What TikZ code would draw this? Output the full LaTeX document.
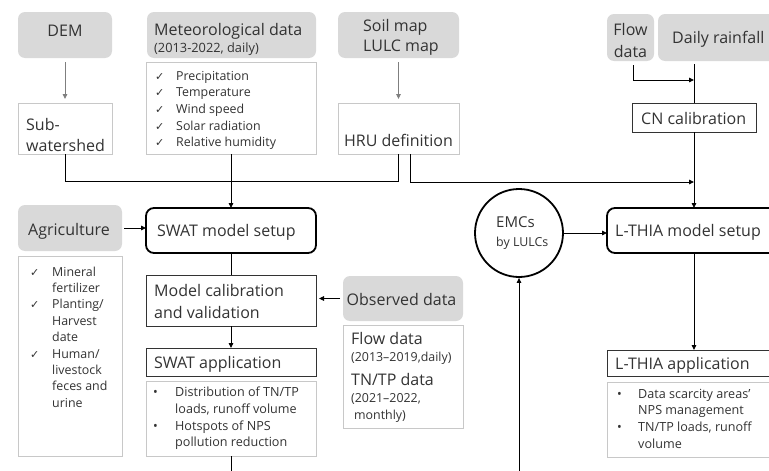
\documentclass[tikz,border=0pt]{standalone}
\usepackage{fontspec}
\setmainfont{Open Sans}
\newfontfamily\symf{DejaVu Sans}
\usetikzlibrary{arrows.meta,calc}
\definecolor{txt}{HTML}{333333}
\definecolor{gfill}{HTML}{D9D9D9}
\definecolor{lborder}{HTML}{C8C8C8}
\definecolor{garrow}{HTML}{7F7F7F}
\newcommand\fs[2]{\fontsize{#1}{#2}\selectfont}
\newcommand\chk{\makebox[21pt][l]{\symf\fontsize{11}{12}\selectfont ✓}}
\newcommand\chkb{\makebox[22pt][l]{\symf\fontsize{11}{12}\selectfont ✓}}
\newcommand\bul{\makebox[22pt][l]{•}}
\newcommand\ind{\hspace*{22pt}}
\begin{document}
\begin{tikzpicture}[x=1pt,y=-1pt,
  box/.style={inner sep=0pt, outer sep=0pt},
  graybox/.style={box, fill=gfill, rounded corners=7pt},
  lightbox/.style={box, draw=lborder, line width=0.8pt, fill=white},
  darkbox/.style={box, draw=txt, line width=0.8pt, fill=white},
  thickbox/.style={box, draw=black, line width=1.8pt, rounded corners=8pt, fill=white},
  lbl/.style={inner sep=0pt, text=txt, font=\fs{16}{20}, anchor=base west, align=left},
  conn/.style={draw=black, line width=0.9pt},
  arr/.style={conn, -{Triangle[length=5pt,width=4.5pt]}},
  garr/.style={draw=garrow, line width=0.9pt, -{Triangle[length=5pt,width=4.5pt]}, shorten <=4pt, shorten >=4pt},
]
\clip (0,0) rectangle (769,471);
% ---------- boxes ----------
\node[graybox, minimum width=94pt, minimum height=46pt] (dem) at (65,35) {};
\node[graybox, minimum width=169pt, minimum height=46pt] (met) at (231.5,35) {};
\node[lightbox, minimum width=170pt, minimum height=92pt] (metl) at (231,108) {};
\node[lightbox, minimum width=94pt, minimum height=51pt] (sub) at (65,128.5) {};
\node[graybox, minimum width=121pt, minimum height=46pt] (soil) at (398.5,35) {};
\node[lightbox, minimum width=121pt, minimum height=51pt] (hru) at (398.5,128.5) {};
\node[graybox, minimum width=47pt, minimum height=47pt] (flow) at (630.5,37.5) {};
\node[graybox, minimum width=132pt, minimum height=47pt] (rain) at (724,37.5) {};
\node[darkbox, minimum width=124pt, minimum height=29pt] (cn) at (694,117.5) {};
\node[thickbox, minimum width=170pt, minimum height=45pt] (swat) at (231,230.5) {};
\node[graybox, minimum width=104pt, minimum height=46pt] (agri) at (70,228) {};
\node[lightbox, minimum width=104pt, minimum height=200pt] (agril) at (70,356) {};
\node[darkbox, minimum width=170pt, minimum height=51pt] (calib) at (231,300.5) {};
\node[darkbox, minimum width=170pt, minimum height=28pt] (swatapp) at (231,362) {};
\node[lightbox, minimum width=170pt, minimum height=75pt] (swatl) at (231,418.5) {};
\node[graybox, minimum width=120pt, minimum height=45pt] (obs) at (403,298.5) {};
\node[lightbox, minimum width=120pt, minimum height=103pt] (obsl) at (403,376.5) {};
\node[circle, draw=black, line width=1.8pt, minimum size=88pt, inner sep=0pt, fill=white] (emc) at (519,233) {};
\node[thickbox, minimum width=183pt, minimum height=45pt] (lthia) at (698.5,230.5) {};
\node[darkbox, minimum width=183pt, minimum height=26pt] (lapp) at (698.5,363) {};
\node[lightbox, minimum width=183pt, minimum height=75pt] (lthial) at (698.5,419.5) {};
% ---------- texts (multi-line: anchored at the last baseline) ----------
\node[lbl, anchor=base] (demt) at (65,36) {DEM};
\node[lbl, font=\fs{16}{16.5}] (mett) at (154,52) {Meteorological data\\{\fs{12.8}{16.5}(2013-2022, daily)}};
\node[lbl, font=\fs{12.4}{16.7}] (metlt) at (155,146.8) {\chk Precipitation\\\chk Temperature\\\chk Wind speed\\\chk Solar radiation\\\chk Relative humidity};
\node[lbl, font=\fs{16}{20.5}] (subt) at (26,151) {Sub-\\watershed};
\node[lbl] (soilt) at (363,51.5) {Soil map\\LULC map};
\node[lbl, anchor=base] (hrut) at (398.5,146.5) {HRU definition};
\node[lbl, font=\fs{16}{21.5}, align=center, anchor=base] (flowt) at (630.5,57) {Flow\\data};
\node[lbl] (raint) at (672,43) {Daily rainfall};
\node[lbl] (cnt) at (641,124) {CN calibration};
\node[lbl] (swatt) at (157,236.5) {SWAT model setup};
\node[lbl] (agrit) at (28,235) {Agriculture};
\node[lbl, font=\fs{12.4}{16.4}] (agrilt) at (30,407.2) {\chkb Mineral\\\ind fertilizer\\\chkb Planting/\\\ind Harvest\\\ind date\\\chkb Human/\\\ind livestock\\\ind feces and\\\ind urine};
\node[lbl, font=\fs{16}{21.6}] (calibt) at (154,318.3) {Model calibration\\and validation};
\node[lbl] (swatappt) at (154,368) {SWAT application};
\node[lbl, font=\fs{12.6}{16.7}] (swatlt) at (153,446.8) {\bul Distribution of TN/TP\\\ind loads, runoff volume\\\bul Hotspots of NPS\\\ind pollution reduction};
\node[lbl] (obst) at (346.5,305) {Observed data};
\node[lbl, font=\fs{12.4}{17}] (obslt) at (351,419.3) {{\fs{16}{17}Flow data}\\(2013–2019,daily)\\[7pt]{\fs{16}{17}TN/TP data}\\(2021–2022,\\\hspace*{3pt}monthly)};
\node[lbl, font=\fs{15}{19}] (emct) at (496,246.7) {EMCs\\{\fs{12.4}{19}by LULCs}};
\node[lbl] (lthiat) at (615,236.5) {L-THIA model setup};
\node[lbl] (lappt) at (615,369) {L-THIA application};
\node[lbl, font=\fs{12.6}{16.6}] (lthialt) at (617,448.1) {\makebox[21pt][l]{•}Data scarcity areas'\\\hspace*{21pt}NPS management\\\makebox[21pt][l]{•}TN/TP loads, runoff\\\hspace*{21pt}volume};
% ---------- helper coordinates ----------
\coordinate (y80) at (0,80);
\coordinate (y182) at (0,182);
\coordinate (bot) at (0,476);
\coordinate (j1) at (cn.north |- y80);
\coordinate (j2) at (cn.south |- y182);
% ---------- connectors ----------
\draw[garr] (dem.south) -- (sub.north);
\draw[garr] (soil.south) -- (hru.north);
\draw[conn] (sub.south) -- ++(0,27) -| (hru.south);
\draw[arr] (metl.south) -- (swat.north);
\draw[arr] ([xshift=11.5pt]hru.south) |- (j2);
\draw[conn, shorten <=3pt] (cn.north |- rain.south) -- (cn.north);
\draw[arr, shorten <=4pt] ([xshift=2.5pt]flow.south) |- (j1);
\draw[arr] (cn.south) -- (cn.south |- lthia.north);
\draw[arr, shorten <=2pt] (agri.east) -- (agri.east -| swat.west);
\draw[conn] (swat.south) -- (calib.north);
\draw[arr] (calib.south) -- (swatapp.north);
\draw[arr, shorten <=3pt, shorten >=3pt] (obs.west) -- (obs.west -| calib.east);
\draw[conn] (swatl.south) -- (swatl.south |- bot);
\draw[arr] (emc.south |- bot) -- (emc.south);
\draw[arr] (emc.east) -- (emc.east -| lthia.west);
\draw[arr] (cn.south |- lthia.south) -- (cn.south |- lapp.north);
\end{tikzpicture}
\end{document}
